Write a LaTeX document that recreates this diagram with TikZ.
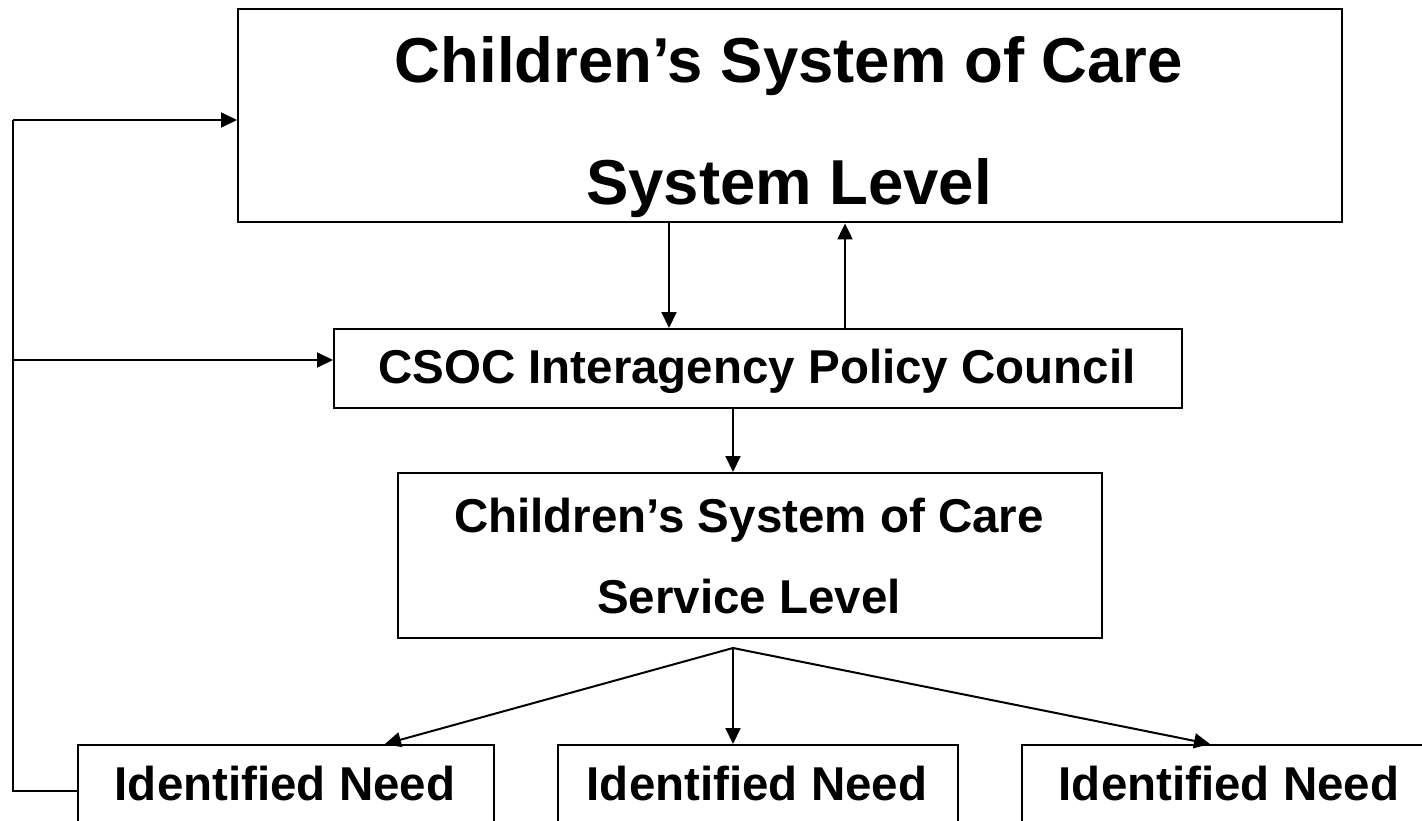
\documentclass[tikz,border=0pt]{standalone}
\usepackage{fontspec}
\setmainfont{Liberation Sans}
\usetikzlibrary{arrows.meta}
\tikzset{
  boxnode/.style={draw=black, line width=2.4pt, rectangle, inner sep=0pt, anchor=north west},
  bigtext/.style={anchor=base, inner sep=0pt, font=\bfseries\fontsize{63.5}{70}\selectfont},
  midtext/.style={anchor=base, inner sep=0pt, font=\bfseries\fontsize{47.5}{52}\selectfont},
  conn/.style={draw=black, line width=2pt},
  arr/.style={conn, -{Triangle[length=16pt,width=15pt]}}
}
\begin{document}
\begin{tikzpicture}[x=1pt,y=-1pt]
\useasboundingbox (0,0) rectangle (1422,820);
\fill[white] (0,0) rectangle (1422,820);
\clip (0,0) rectangle (1422,820);
% boxes
\node[boxnode, minimum width=1104pt, minimum height=213pt] (top) at (237,8) {};
\node[boxnode, minimum width=848pt, minimum height=79pt] (csoc) at (333,328) {};
\node[boxnode, minimum width=704pt, minimum height=165pt] (serv) at (397,472) {};
\node[boxnode, minimum width=416pt, minimum height=120pt] (n1) at (77,744) {};
\node[boxnode, minimum width=400pt, minimum height=120pt] (n2) at (557,744) {};
\node[boxnode, minimum width=420pt, minimum height=120pt] (n3) at (1021,744) {};
% texts
\node[bigtext] (t1) at (789,82) {Children’s System of Care};
\node[bigtext] (t2) at (789,204) {System Level};
\node[midtext] (t3) at (757,383) {CSOC Interagency Policy Council};
\node[midtext] (t4) at (749,532) {Children’s System of Care};
\node[midtext] (t5) at (749,613) {Service Level};
\node[midtext] (t6) at (285,800) {Identified Need};
\node[midtext] (t7) at (757,800) {Identified Need};
\node[midtext] (t8) at (1229,800) {Identified Need};
% helper coordinates
\coordinate (xa) at (669,0);
\coordinate (xb) at (845,0);
\coordinate (xc) at (733,0);
\coordinate (fan) at (733,648);
\coordinate (tip1) at (385,744);
\coordinate (tip3) at (1210,744);
\coordinate (corner) at (13,791);
\coordinate (ya) at (0,120);
\coordinate (yb) at (0,360);
% connectors
\draw[arr] (top.south -| xa) -- (csoc.north -| xa);
\draw[arr] (csoc.north -| xb) -- (top.south -| xb);
\draw[arr] (csoc.south -| xc) -- (serv.north -| xc);
\draw[arr] (fan) -- (tip1);
\draw[arr] (fan) -- (n2.north -| fan);
\draw[arr] (fan) -- (tip3);
\draw[conn] (n1.west |- corner) -- (corner) -- (corner |- ya);
\draw[arr] (corner |- ya) -- (top.west |- ya);
\draw[arr] (corner |- yb) -- (csoc.west |- yb);
\end{tikzpicture}
\end{document}
